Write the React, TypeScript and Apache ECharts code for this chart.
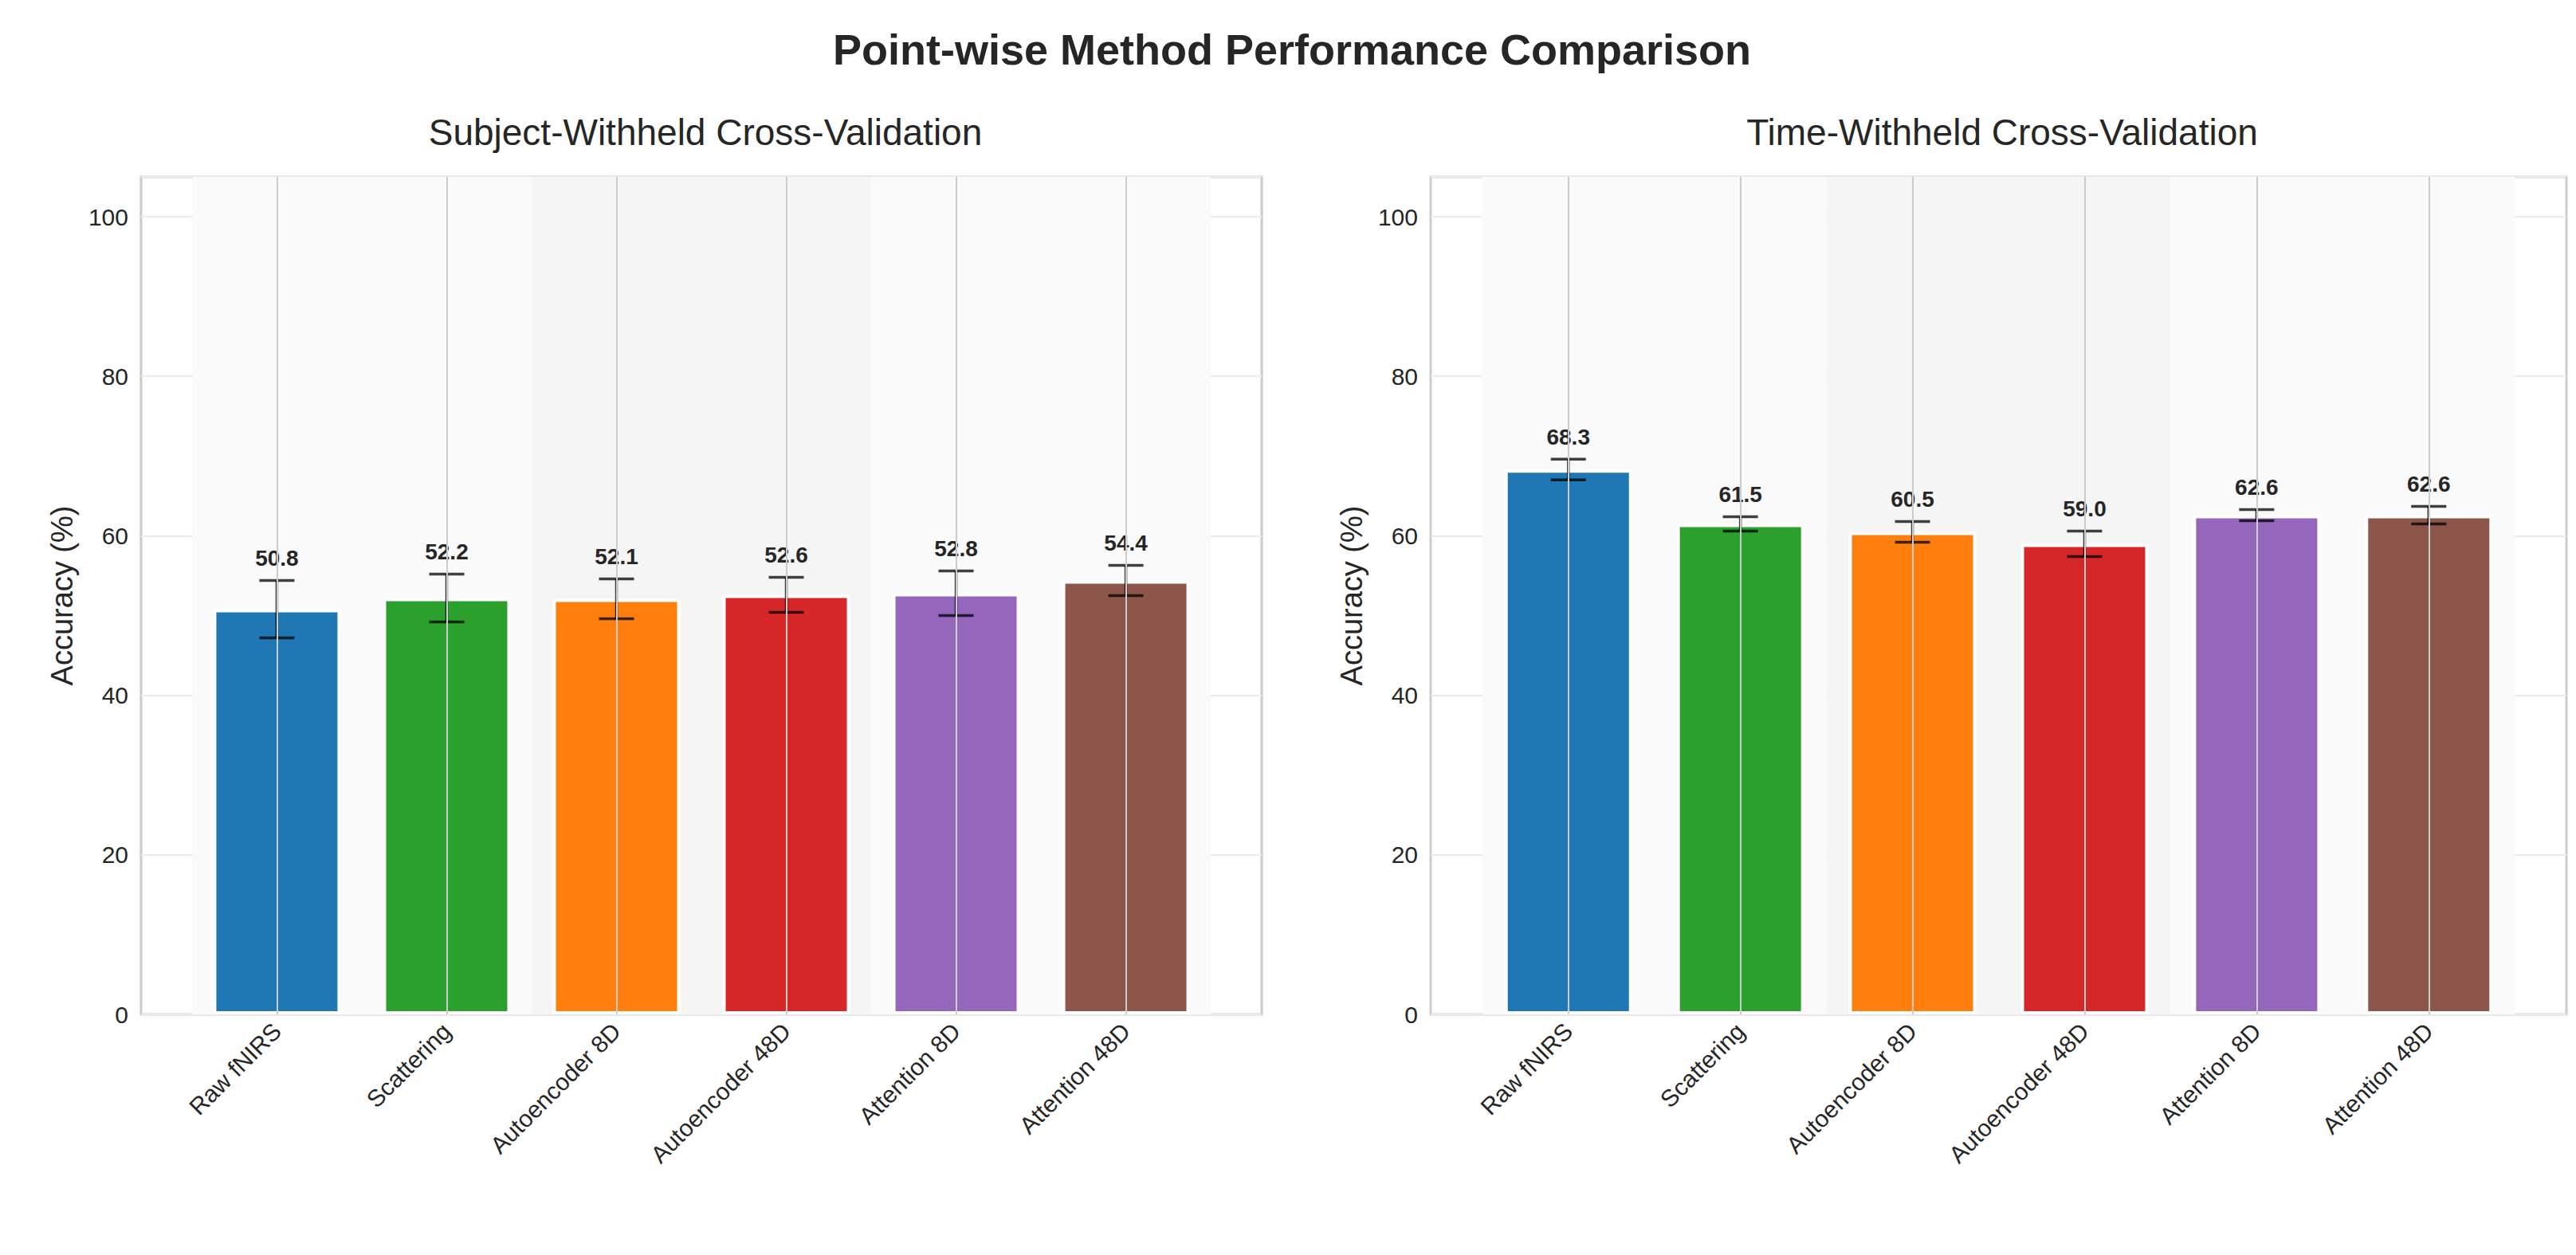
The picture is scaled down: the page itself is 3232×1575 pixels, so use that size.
import React, { useEffect, useRef } from "react";
import * as echarts from "echarts";

const categories = ["Raw fNIRS", "Scattering", "Autoencoder 8D", "Autoencoder 48D", "Attention 8D", "Attention 48D"];
const colors = ["#1f77b4", "#2ca02c", "#ff7f0e", "#d62728", "#9467bd", "#8c564b"];
const subjectValues = [50.8, 52.2, 52.1, 52.6, 52.8, 54.4];
const subjectErrors = [3.6, 3.0, 2.5, 2.2, 2.8, 1.9];
const timeValues = [68.3, 61.5, 60.5, 59.0, 62.6, 62.6];
const timeErrors = [1.3, 0.9, 1.3, 1.6, 0.7, 1.1];
const yTicks = [0, 20, 40, 60, 80, 100];

const FONT = "Liberation Sans, Arial, sans-serif";

function panel(idx: number, values: number[], errors: number[]) {
  const ax = { xAxisIndex: idx, yAxisIndex: idx };
  return [
    {
      type: "line",
      ...ax,
      data: [],
      z: 1,
      silent: true,
      markArea: {
        silent: true,
        data: [
          [{ xAxis: -0.5, itemStyle: { color: "#fafafa" } }, { xAxis: 1.5 }],
          [{ xAxis: 1.5, itemStyle: { color: "#f5f5f5" } }, { xAxis: 3.5 }],
          [{ xAxis: 3.5, itemStyle: { color: "#fafafa" } }, { xAxis: 5.5 }],
        ],
      },
      markLine: {
        silent: true,
        symbol: "none",
        label: { show: false },
        lineStyle: { color: "#cccccc", width: 2, type: "solid" },
        data: categories.map((_, i) => ({ xAxis: i })),
      },
    },
    {
      type: "bar",
      ...ax,
      z: 2,
      barWidth: 160,
      data: values.map((v, i) => ({
        value: [i, v],
        itemStyle: { color: colors[i], borderColor: "#ffffff", borderWidth: 4 },
      })),
    },
    {
      type: "custom",
      ...ax,
      z: 3,
      data: values.map((v, i) => [i, v, errors[i]]),
      renderItem: (params: any, api: any) => {
        const x = api.value(0);
        const v = api.value(1);
        const e = api.value(2);
        const top = api.coord([x, v + e]);
        const bot = api.coord([x, v - e]);
        const cap = 22;
        const st = { stroke: "rgba(0,0,0,0.75)", lineWidth: 3.5 };
        return {
          type: "group",
          children: [
            { type: "line", shape: { x1: top[0], y1: top[1], x2: bot[0], y2: bot[1] }, style: st },
            { type: "line", shape: { x1: top[0] - cap, y1: top[1], x2: top[0] + cap, y2: top[1] }, style: st },
            { type: "line", shape: { x1: bot[0] - cap, y1: bot[1], x2: bot[0] + cap, y2: bot[1] }, style: st },
            {
              type: "text",
              x: top[0],
              y: top[1] - 14,
              style: {
                text: v.toFixed(1),
                fill: "#262626",
                font: `bold 28px ${FONT}`,
                align: "center",
                verticalAlign: "bottom",
              },
            },
          ],
        };
      },
    },
  ];
}

export default function App() {
  const ref = useRef<HTMLDivElement>(null);
  useEffect(() => {
    document.body.style.margin = "0";
    const chart = echarts.init(ref.current!, null, { renderer: "svg" });
    const grids = [
      { left: 177, top: 222, width: 1406, height: 1051 },
      { left: 1795, top: 222, width: 1425, height: 1051 },
    ];
    const xAxis = grids.map((_, i) => ({
      type: "value",
      gridIndex: i,
      min: -0.8,
      max: 5.8,
      splitLine: { show: false },
      axisLine: { show: false },
      axisTick: { show: false },
      axisLabel: {
        customValues: [0, 1, 2, 3, 4, 5],
        formatter: (v: number) => categories[Math.round(v)] ?? "",
        rotate: 45,
        fontSize: 30,
        color: "#262626",
        fontFamily: FONT,
        margin: 16,
      },
    }));
    const yAxis = grids.map((_, i) => ({
      type: "value",
      gridIndex: i,
      min: 0,
      max: 105,
      interval: 20,
      name: "Accuracy (%)",
      nameLocation: "middle",
      nameGap: 80,
      nameTextStyle: { fontSize: 38, color: "#262626", fontFamily: FONT },
      axisLine: { show: false },
      axisTick: { show: false },
      axisLabel: {
        fontSize: 30,
        color: "#262626",
        fontFamily: FONT,
        margin: 16,
        formatter: (v: number) => (yTicks.includes(v) ? String(v) : ""),
      },
      splitLine: { lineStyle: { color: "#ebebeb", width: 2 } },
    }));
    chart.setOption({
      animation: false,
      backgroundColor: "#ffffff",
      title: [
        {
          text: "Point-wise Method Performance Comparison",
          left: 1616,
          top: 30,
          textAlign: "center",
          textStyle: { fontSize: 54, fontWeight: "bold", color: "#262626", fontFamily: FONT },
        },
        {
          text: "Subject-Withheld Cross-Validation",
          left: 880,
          top: 138,
          textAlign: "center",
          textStyle: { fontSize: 46, fontWeight: "normal", color: "#262626", fontFamily: FONT },
        },
        {
          text: "Time-Withheld Cross-Validation",
          left: 2507,
          top: 138,
          textAlign: "center",
          textStyle: { fontSize: 46, fontWeight: "normal", color: "#262626", fontFamily: FONT },
        },
      ],
      grid: grids.map((g) => ({ ...g, show: true, borderColor: "#cccccc", borderWidth: 3, backgroundColor: "#ffffff" })),
      xAxis,
      yAxis,
      series: [...panel(0, subjectValues, subjectErrors), ...panel(1, timeValues, timeErrors)],
    });
    return () => chart.dispose();
  }, []);
  return <div ref={ref} style={{ width: 3232, height: 1575 }} />;
}
